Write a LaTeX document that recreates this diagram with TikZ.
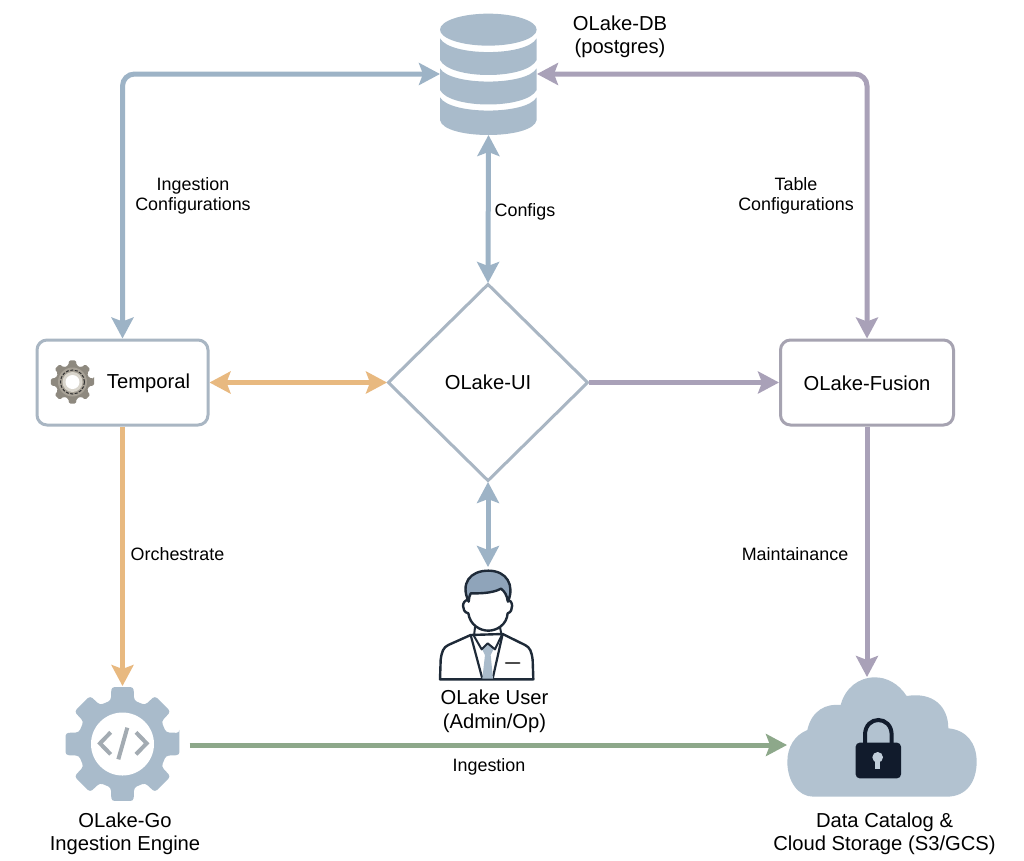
\documentclass[tikz,border=0pt]{standalone}
\usepackage{fontspec}
\setmainfont{Liberation Sans}
\usetikzlibrary{arrows.meta,shapes.geometric}
\definecolor{cblue}{HTML}{9DB3C6}
\definecolor{corange}{HTML}{E8B980}
\definecolor{cpurple}{HTML}{A9A1B8}
\definecolor{cgreen}{HTML}{8DA88A}
\definecolor{cicon}{HTML}{A9BBCB}
\definecolor{ccloud}{HTML}{B2C2D0}
\definecolor{cdark}{HTML}{111B2C}
\definecolor{cbord}{HTML}{A9B6C3}
\definecolor{cbordp}{HTML}{A6A3B1}
\definecolor{chair}{HTML}{8FA4BA}
\definecolor{cink}{HTML}{1E2A38}
\definecolor{cgearA}{HTML}{8E897F}
\definecolor{cgearB}{HTML}{A8A297}
\definecolor{cgearC}{HTML}{D9D5CC}
\definecolor{ccode}{HTML}{A3ABB2}
\tikzset{
  conn/.style={line width=5pt,rounded corners=12pt,-{Stealth[length=21pt,width=22pt,inset=4pt]}},
  both/.style={conn,{Stealth[length=21pt,width=22pt,inset=4pt]}-{Stealth[length=21pt,width=22pt,inset=4pt]}},
  anchorbox/.style={inner sep=0pt,outer sep=0pt},
  boxnode/.style={draw,line width=3pt,rounded corners=10pt,minimum height=85pt,inner sep=0pt,outer sep=1.5pt},
  bigtxt/.style={align=center,inner sep=0pt,font=\fontsize{20.2}{23.5}\selectfont},
  smalltxt/.style={align=center,inner sep=0pt,font=\fontsize{17.9}{20.5}\selectfont}
}
\begin{document}
\begin{tikzpicture}[x=1pt,y=-1pt]
\useasboundingbox (0,0) rectangle (1024,860);
\fill[white] (0,0) rectangle (1024,860);

% anchor nodes of the icons
\node[anchorbox,minimum width=97pt,minimum height=122pt] (db) at (488.5,74) {};
\node[anchorbox,minimum width=116pt,minimum height=118pt] (gear) at (122.5,745) {};
\node[anchorbox,minimum width=190pt,minimum height=136pt] (cloud) at (882,745) {};
\node[anchorbox,minimum width=96pt,minimum height=112pt] (user) at (488,623) {};

% database
\begin{scope}[shift={(400,0)},x=0.3333pt,y=-0.3333pt]
\fill[cicon] (120,360) -- (120,292) .. controls (150,345) and (380,345) .. (410,292) -- (410,360) .. controls (400,420) and (130,420) .. (120,360) -- cycle;
\fill[cicon] (120,270) -- (120,205) .. controls (150,258) and (380,258) .. (410,205) -- (410,270) .. controls (380,328) and (150,328) .. (120,270) -- cycle;
\fill[cicon] (120,180) -- (120,115) .. controls (150,170) and (380,170) .. (410,115) -- (410,180) .. controls (380,240) and (150,240) .. (120,180) -- cycle;
\fill[cicon] (265,89) ellipse[x radius=145,y radius=48];
\end{scope}

% diamond and boxes
\node[draw=cbord,line width=3pt,diamond,aspect=1,minimum width=200pt,minimum height=197pt,inner sep=0pt,outer sep=1pt,bigtxt] (ui) at (488,382.5) {OLake-UI};
\node[boxnode,draw=cbord,minimum width=171pt] (tmp) at (122.5,382.5) {};
\node[boxnode,draw=cbordp,minimum width=173pt] (fus) at (867,382.5) {};
\node[bigtxt] (tmptxt) at (148.5,383.5) {Temporal};
\node[bigtxt] (fustxt) at (867,383.5) {OLake-Fusion};

% small gear
\begin{scope}[shift={(72.5,382)}]
\fill[rounded corners=1.5pt,cgearA] (-9:22)
  \foreach \a in {0,45,...,315}{ -- (\a-9:22) -- (\a+9:22) -- (\a+14:17) -- (\a+31:17) } -- cycle;
\fill[cgearB] (0,0) circle (14.5);
\draw[black!80,line width=1pt,dash pattern=on 3pt off 1.5pt] (0,0) circle (12);
\fill[cgearC] (0,0) circle (10);
\fill[white] (0,0) circle (7);
\end{scope}

% connectors
\draw[both,color=cblue] (tmp.north) |- (db.west);
\draw[both,color=cpurple] (fus.north) |- (db.east);
\draw[both,color=cblue] (db.south) -- (ui.north);
\draw[both,color=corange] (tmp.east) -- (ui.west);
\draw[conn,color=cpurple] (ui.east) -- (fus.west);
\draw[both,color=cblue] (ui.south) -- (user.north);
\draw[conn,color=corange] (tmp.south) -- (tmp.south |- gear.north);
\draw[conn,color=cpurple] (fus.south) -- (fus.south |- cloud.north);
\draw[conn,color=cgreen,shorten <=9pt] (gear.east) -- (cloud.west);

% user
\begin{scope}[shift={(420,550)},x=0.3333pt,y=-0.3333pt,line join=round,line cap=round]
\draw[fill=white,draw=cink,line width=2.4pt] (152,255) -- (85,285) .. controls (70,292) and (65,305) .. (62,330) -- (60,388) -- (340,388) -- (338,330) .. controls (335,305) and (330,292) .. (315,285) -- (248,252) -- cycle;
\draw[draw=cink,line width=2.2pt] (152,255) -- (187,386);
\draw[draw=cink,line width=2.2pt] (248,252) -- (218,386);
\fill[cicon] (185,295) -- (203,280) -- (222,295) -- (212,315) -- (219,386) -- (187,386) -- (195,315) -- cycle;
\draw[draw=cink,line width=2pt] (165,232) -- (162,258) -- (185,298) -- (203,280) -- (225,298) -- (245,256) -- (240,232);
\draw[draw=black!70,line width=2.5pt] (258,339) -- (298,339);
\draw[fill=white,draw=cink,line width=2.4pt] (146,150) .. controls (125,148) and (122,185) .. (145,190) .. controls (150,225) and (180,242) .. (205,242) .. controls (230,242) and (260,225) .. (263,190) .. controls (282,185) and (280,148) .. (262,150);
\draw[fill=chair,draw=cink,line width=2.4pt] (146,155) .. controls (120,100) and (150,62) .. (205,62) .. controls (260,62) and (285,105) .. (264,155) .. controls (260,135) and (255,125) .. (243,116) .. controls (215,132) and (165,130) .. (152,130) .. controls (148,138) and (147,145) .. (146,155) -- cycle;
\end{scope}

% gear
\begin{scope}[shift={(122.5,744)}]
\fill[cicon,rounded corners=3pt] (-11:58)
  \foreach \a in {0,45,...,315}{ -- (\a-11:58) -- (\a+11:58) -- (\a+15:45) -- (\a+30:45) } -- cycle;
\fill[white] (0,0) circle (31.5);
\end{scope}
\begin{scope}[shift={(50,670)},x=0.3333pt,y=-0.3333pt,color=ccode,line width=4pt]
\draw (182,187) -- (150,220) -- (182,253);
\draw (232,173) -- (205,268);
\draw (258,187) -- (290,220) -- (258,253);
\end{scope}

% cloud
\begin{scope}[shift={(770,660)},x=0.3333pt,y=-0.3333pt]
\fill[ccloud] (130,410) -- (530,410) .. controls (590,410) and (620,365) .. (620,305) .. controls (620,250) and (590,210) .. (535,205) .. controls (535,140) and (490,95) .. (410,108) .. controls (385,70) and (350,52) .. (315,52) .. controls (265,52) and (225,85) .. (212,135) .. controls (170,130) and (125,150) .. (112,210) .. controls (75,225) and (52,260) .. (52,305) .. controls (52,365) and (85,410) .. (130,410) -- cycle;
\draw[cdark,line width=4pt] (285,250) -- (285,225) .. controls (285,165) and (365,165) .. (365,225) -- (365,250);
\fill[cdark,rounded corners=4pt] (257,248) rectangle (393,355);
\fill[ccloud!80!white] (323,292) circle[radius=16];
\fill[ccloud!80!white] (315,295) rectangle (331,327);
\end{scope}

% labels
\node[bigtxt] (dbtxt) at (620,37) {OLake-DB\\(postgres)};
\node[smalltxt] (l1) at (193,196) {Ingestion\\Configurations};
\node[smalltxt] (l2) at (796,196) {Table\\Configurations};
\node[smalltxt] (l3) at (525,212) {Configs};
\node[smalltxt] (l4) at (177.5,554) {Orchestrate};
\node[smalltxt] (l5) at (795,554) {Maintainance};
\node[smalltxt] (l6) at (489,767) {Ingestion};
\node[bigtxt] (usertxt) at (494.5,711.5) {OLake User\\(Admin/Op)};
\node[bigtxt] (gotxt) at (125,834) {OLake-Go\\Ingestion Engine};
\node[bigtxt] (cltxt) at (884.5,834) {Data Catalog \&\\Cloud Storage (S3/GCS)};
\end{tikzpicture}
\end{document}
